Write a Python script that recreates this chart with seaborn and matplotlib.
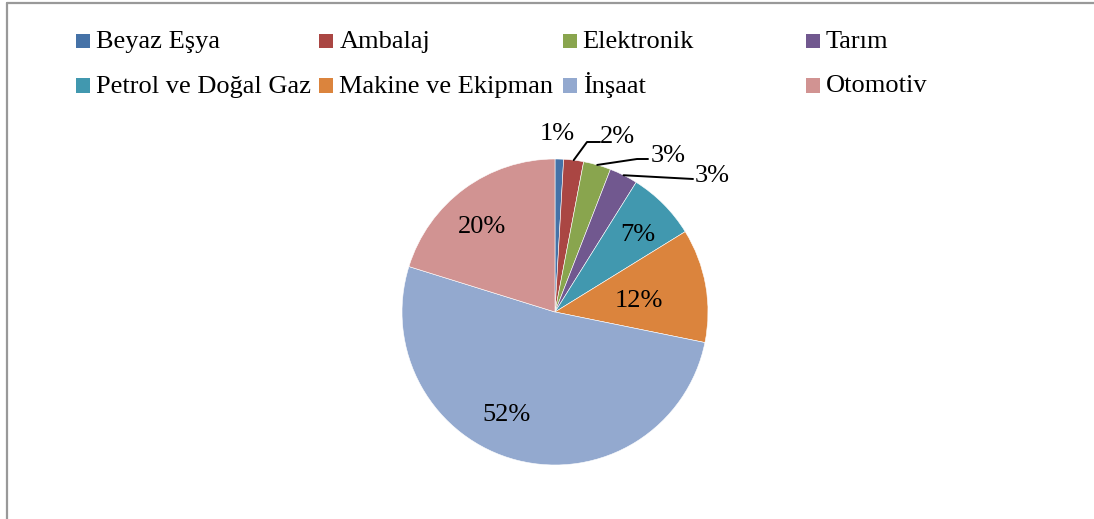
import matplotlib
matplotlib.use("Agg")
import matplotlib.pyplot as plt
from matplotlib.patches import Rectangle
from matplotlib.lines import Line2D
import seaborn as sns
import numpy as np

sns.set_theme(style="white")
plt.rcParams['font.family'] = ['Liberation Serif', 'DejaVu Serif']

# sector shares (%)
sectors = ['Beyaz Eşya', 'Ambalaj', 'Elektronik', 'Tarım',
           'Petrol ve Doğal Gaz', 'Makine ve Ekipman', 'İnşaat', 'Otomotiv']
shares = [0.9, 2.1, 2.9, 3.0, 7.3, 12.0, 51.6, 20.2]
colors = sns.color_palette(['#4572A7', '#AA4643', '#89A54E', '#71588F',
                            '#4198AF', '#DB843D', '#93A9CF', '#D19392'])

W, H = 1094, 519
fig = plt.figure(figsize=(W / 100, H / 100), dpi=100)

# pie area: centre (555, 312) px, radius 153 px
cx, cy, R = 555, 312, 153
ax = fig.add_axes([(cx - R) / W, (H - cy - R) / H, 2 * R / W, 2 * R / H])
wedges, _ = ax.pie(shares, colors=colors, startangle=90, counterclock=False,
                   radius=1, wedgeprops=dict(edgecolor='white', linewidth=0.4))
ax.set_xlim(-1, 1)
ax.set_ylim(-1, 1)
ax.set_aspect('equal')
ax.axis('off')

FS = 19


def px(x, y):
    return ((x - cx) / R, (cy - y) / R)


# label placement (baseline positions, px) and leader elbows
label_at = [(557, 140, 'center'), (600, 143, 'left'), (651, 162, 'left'),
            (695, 182, 'left'), (638, 241, 'center'), (639, 307, 'center'),
            (506, 421, 'center'), (482, 233, 'center')]
leaders = {1: [(587, 142), (600, 142)],
           2: [(637, 159), (648, 159)],
           3: [(693, 179)]}

for i, w in enumerate(wedges):
    lx, ly, ha = label_at[i]
    tx, ty = px(lx, ly)
    ax.text(tx, ty, '%.0f%%' % shares[i], ha=ha, va='baseline', fontsize=FS,
            color='black')
    if i in leaders:
        mid = np.deg2rad((w.theta1 + w.theta2) / 2)
        xs = [np.cos(mid)] + [px(*p)[0] for p in leaders[i]]
        ys = [np.sin(mid)] + [px(*p)[1] for p in leaders[i]]
        ax.plot(xs, ys, color='black', lw=1.4, clip_on=False)

# legend: 4 equal columns, 2 rows
col_w = 243.3
for i, name in enumerate(sectors):
    r, c = divmod(i, 4)
    x0 = 76 + c * col_w
    base = 48 if r == 0 else 92.5
    fig.add_artist(Rectangle((x0 / W, 1 - base / H), 14 / W, 14 / H,
                             transform=fig.transFigure, color=colors[i], lw=0))
    fig.text((x0 + 20) / W, 1 - base / H, name, fontsize=FS, va='baseline',
             ha='left', color='black')

# chart frame (left and top edges visible)
fig.add_artist(Line2D([7 / W, 7 / W], [0, 1 - 3 / H], color='#999999', lw=1.6,
                      transform=fig.transFigure))
fig.add_artist(Line2D([7 / W, 1], [1 - 3 / H, 1 - 3 / H], color='#999999',
                      lw=1.6, transform=fig.transFigure))

fig.savefig('out.png', dpi=100, facecolor='white')
